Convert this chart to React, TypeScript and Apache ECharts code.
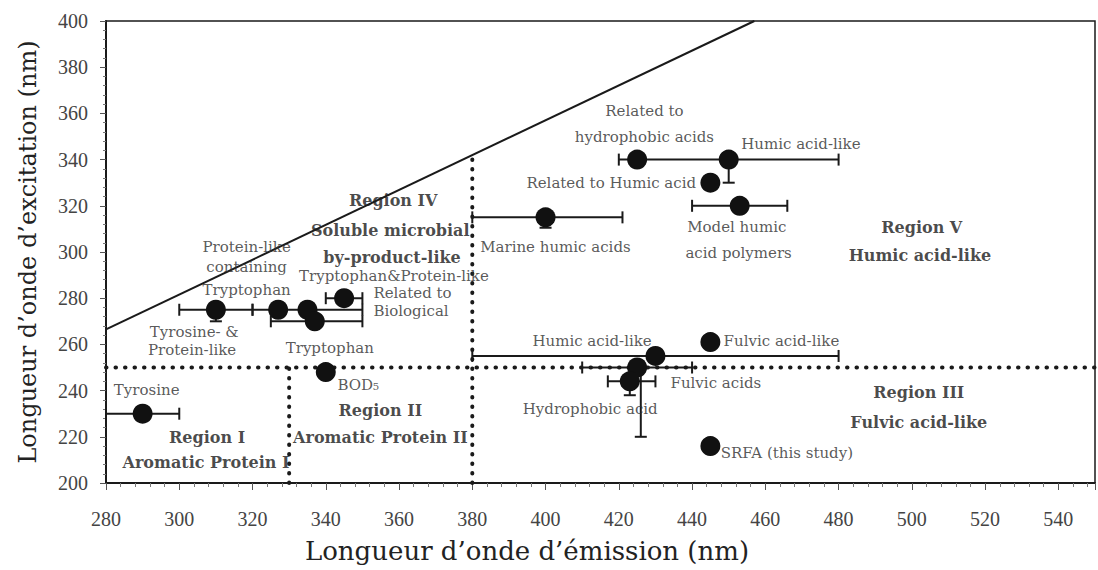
import React, { useEffect, useRef } from "react";
import * as echarts from "echarts";

// x-axis (emission, nm) and y-axis (excitation, nm) ranges
const xRange = [280, 550];
const yRange = [200, 400];
const tickStep = 20;

// EEM peak positions [emission, excitation]
const points: [number, number][] = [
  [290, 230], // Tyrosine
  [310, 275], // Tyrosine- & Protein-like
  [327, 275], // Protein-like containing Tryptophan
  [335, 275], // Tryptophan & Protein-like
  [337, 270], // Tryptophan
  [345, 280], // Related to Biological
  [340, 248], // Tryptophan / BOD5
  [400, 315], // Marine humic acids
  [425, 340], // Related to hydrophobic acids
  [450, 340], // Humic acid-like
  [445, 330], // Related to Humic acid
  [453, 320], // Model humic acid polymers
  [445, 261], // Fulvic acid-like
  [430, 255], // Humic acid-like (region III)
  [425, 250], // Fulvic acids
  [423, 244], // Hydrophobic acid
  [445, 216], // SRFA (this study)
];

// horizontal error bars [excitation, emission low, emission high]
const xErrorBars: [number, number, number][] = [
  [230, 280, 300],
  [275, 300, 320],
  [275, 320, 350],
  [270, 325, 350],
  [280, 340, 350],
  [315, 380, 421],
  [340, 420, 480],
  [320, 440, 466],
  [255, 380, 480],
  [250, 410, 440],
  [244, 417, 430],
];

// vertical error bars [emission, excitation low, excitation high]
const yErrorBars: [number, number, number][] = [
  [310, 270, 275],
  [400, 310.5, 315],
  [450, 330, 340],
  [426, 220, 250],
  [423, 238, 244],
];

// region boundaries
const diagonalLine: [number, number][] = [[280, 266.5], [457, 400]];
const boundary250: [number, number][] = [[280, 250], [550, 250]];
const boundary330: [number, number][] = [[330, 200], [330, 250]];
const boundary380: [number, number][] = [[380, 200], [380, 341]];

// annotations [emission, excitation, text, align]
const pointLabels: [number, number, string, string][] = [
  [427, 361, "Related to", "center"],
  [427, 349.8, "hydrophobic acids", "center"],
  [469.7, 346.8, "Humic acid-like", "center"],
  [441.1, 329.9, "Related to Humic acid", "right"],
  [402.7, 302.2, "Marine humic acids", "center"],
  [452.2, 310.8, "Model humic", "center"],
  [452.7, 299.6, "acid polymers", "center"],
  [318.4, 302.2, "Protein-like", "center"],
  [318.4, 293.5, "containing", "center"],
  [318.4, 283.5, "Tryptophan", "center"],
  [358.6, 289.8, "Tryptophan&Protein-like", "center"],
  [353, 282.2, "Related to", "left"],
  [353, 274.6, "Biological", "left"],
  [304.1, 265.3, "Tyrosine- &", "center"],
  [303.5, 257.7, "Protein-like", "center"],
  [341.1, 258.4, "Tryptophan", "center"],
  [343.2, 242.4, "BOD₅", "left"],
  [291.1, 240.3, "Tyrosine", "center"],
  [412.7, 261.5, "Humic acid-like", "center"],
  [448.6, 261.5, "Fulvic acid-like", "left"],
  [446.5, 243.3, "Fulvic acids", "center"],
  [412.2, 232, "Hydrophobic acid", "center"],
  [447.8, 213, "SRFA (this study)", "left"],
];

const regionLabels: [number, number, string][] = [
  [358.4, 322.5, "Region IV"],
  [357.6, 309.5, "Soluble microbial"],
  [358.1, 297.8, "by-product-like"],
  [307.6, 219.9, "Region I"],
  [307.3, 208.7, "Aromatic Protein I"],
  [354.9, 231.6, "Region II"],
  [354.9, 219.5, "Aromatic Protein II"],
  [501.9, 239, "Region III"],
  [501.9, 226.4, "Fulvic acid-like"],
  [502.7, 310.8, "Region V"],
  [502.2, 298.7, "Humic acid-like"],
];

const INK = "#1a1a1a";

function errorBarRenderer(horizontal: boolean) {
  return (params: any, api: any) => {
    const a = api.value(0);
    const lo = api.value(1);
    const hi = api.value(2);
    const p1 = horizontal ? api.coord([lo, a]) : api.coord([a, lo]);
    const p2 = horizontal ? api.coord([hi, a]) : api.coord([a, hi]);
    const c = 6;
    const style = { stroke: INK, lineWidth: 2 };
    const capAt = (p: number[]) =>
      horizontal
        ? { type: "line", shape: { x1: p[0], y1: p[1] - c, x2: p[0], y2: p[1] + c }, style }
        : { type: "line", shape: { x1: p[0] - c, y1: p[1], x2: p[0] + c, y2: p[1] }, style };
    return {
      type: "group",
      children: [
        { type: "line", shape: { x1: p1[0], y1: p1[1], x2: p2[0], y2: p2[1] }, style },
        capAt(p1),
        capAt(p2),
      ],
    };
  };
}

const dotted = { type: [0.5, 9] as any, cap: "round", width: 4, color: INK };

export default function App() {
  const ref = useRef<HTMLDivElement>(null);
  useEffect(() => {
    if (!ref.current) return;
    const chart = echarts.init(ref.current, undefined, { renderer: "svg" });
    const lineSeries = (data: [number, number][], lineStyle: any) => ({
      type: "line",
      data,
      symbol: "none",
      silent: true,
      z: 1,
      lineStyle,
    });
    chart.setOption({
      animation: false,
      backgroundColor: "#ffffff",
      grid: {
        left: 106,
        right: -7,
        top: 21,
        bottom: 87,
        show: true,
        borderColor: INK,
        borderWidth: 1.5,
      },
      xAxis: {
        type: "value",
        min: xRange[0],
        max: xRange[1],
        interval: tickStep,
        name: "Longueur d’onde d’émission (nm)",
        nameLocation: "middle",
        nameGap: 55,
        nameTextStyle: {
          fontFamily: "DejaVu Serif",
          fontSize: 26,
          color: "#222",
          padding: [0, 147, 0, 0],
        },
        axisLine: { show: true, lineStyle: { color: INK, width: 2 } },
        axisTick: { show: true, length: 7, lineStyle: { color: "#555", width: 1 } },
        minorTick: { show: true, splitNumber: 5, length: 4, lineStyle: { color: "#777" } },
        splitLine: { show: false },
        axisLabel: {
          margin: 26,
          fontFamily: "Liberation Serif",
          fontSize: 20,
          color: "#444",
          formatter: (v: number) => (v % 20 === 0 && v <= 540 ? String(v) : ""),
        },
      },
      yAxis: {
        type: "value",
        min: yRange[0],
        max: yRange[1],
        interval: tickStep,
        name: "Longueur d’onde d’excitation (nm)",
        nameLocation: "middle",
        nameGap: 66,
        nameTextStyle: { fontFamily: "DejaVu Serif", fontSize: 24, color: "#222" },
        axisLine: { show: true, lineStyle: { color: INK, width: 2 } },
        axisTick: { show: true, length: 6, lineStyle: { color: "#555", width: 1 } },
        minorTick: { show: true, splitNumber: 5, length: 3, lineStyle: { color: "#777" } },
        splitLine: { show: false },
        axisLabel: {
          margin: 18,
          fontFamily: "Liberation Serif",
          fontSize: 20,
          color: "#444",
        },
      },
      series: [
        lineSeries(diagonalLine, { color: INK, width: 2 }),
        lineSeries(boundary250, dotted),
        lineSeries(boundary330, dotted),
        lineSeries(boundary380, dotted),
        {
          type: "custom",
          renderItem: errorBarRenderer(true),
          data: xErrorBars,
          encode: { x: [1, 2], y: 0 },
          silent: true,
          z: 2,
        },
        {
          type: "custom",
          renderItem: errorBarRenderer(false),
          data: yErrorBars,
          encode: { x: 0, y: [1, 2] },
          silent: true,
          z: 2,
        },
        {
          type: "scatter",
          data: points,
          symbol: "circle",
          symbolSize: 20,
          itemStyle: { color: "#111", opacity: 1 },
          silent: true,
          z: 3,
        },
        {
          type: "scatter",
          symbolSize: 0,
          silent: true,
          z: 5,
          data: pointLabels.map(([x, y, t, a]) => ({
            value: [x, y],
            name: t,
            label: { align: a },
          })),
          label: {
            show: true,
            position: "inside",
            formatter: "{b}",
            fontFamily: "DejaVu Serif",
            fontSize: 15,
            color: "#2e2e2e",
            verticalAlign: "middle",
          },
        },
        {
          type: "scatter",
          symbolSize: 0,
          silent: true,
          z: 5,
          data: regionLabels.map(([x, y, t]) => ({ value: [x, y], name: t })),
          label: {
            show: true,
            position: "inside",
            formatter: "{b}",
            fontFamily: "DejaVu Serif",
            fontWeight: "bold",
            fontSize: 16,
            color: "#1a1a1a",
            align: "center",
            verticalAlign: "middle",
          },
        },
      ],
    });
    return () => chart.dispose();
  }, []);
  return (
    <div
      ref={ref}
      style={{ position: "absolute", left: 0, top: 0, width: 1098, height: 570, background: "#fff" }}
    />
  );
}
